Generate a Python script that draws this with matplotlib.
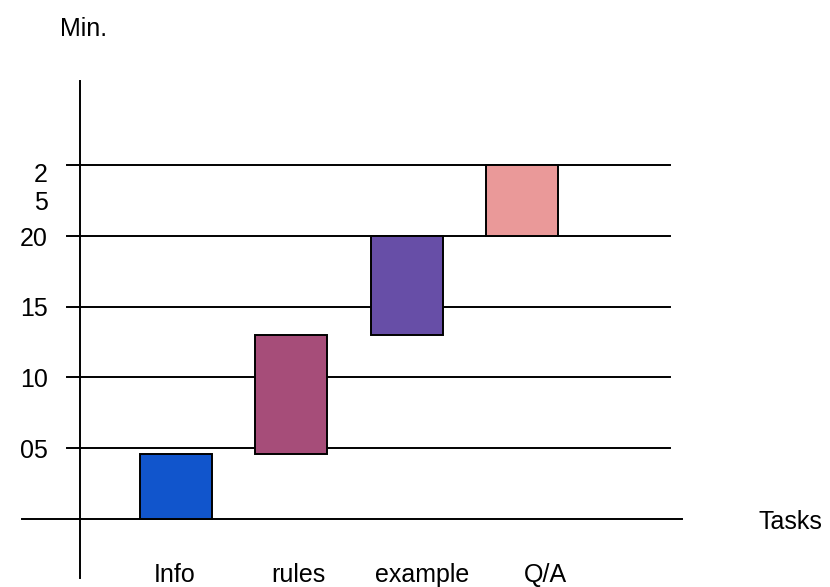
import numpy as np
import matplotlib
matplotlib.use("Agg")
from matplotlib import pyplot as plt

plt.rcParams['font.family'] = ['Liberation Sans', 'DejaVu Sans']

# Tareas y minutos (inicio / fin de cada tarea)
tasks = ['Info', 'rules', 'example', 'Q/A']
start = [0, 4.6, 13.0, 20.0]
end = [4.6, 13.0, 20.0, 25.0]
colors = ['#1155CC', '#A64D79', '#674EA7', '#EA9999']

ticks = [5, 10, 15, 20, 25]
tick_labels = ['05', '10', '15', '20', '2\n5']

fs = 18

fig = plt.figure(figsize=(8.3, 5.87), dpi=100)
ax = fig.add_axes([0, 0, 1, 1])
ax.set_xlim(-1.5295, 5.675)
ax.set_ylim(-4.80, 36.65)
ax.axis('off')

x = np.arange(len(tasks))
dur = np.array(end) - np.array(start)

# lineas horizontales
for t in ticks:
    ax.plot([-0.948, 4.286], [t, t], color='black', lw=1.4, zorder=1)
ax.plot([-1.339, 4.39], [0, 0], color='black', lw=1.4, zorder=1)
# eje vertical
ax.plot([-0.835, -0.835], [-4.17, 30.9], color='black', lw=1.4, zorder=1)

ax.bar(x, dur, bottom=start, width=0.625, color=colors,
       edgecolor='black', linewidth=1.4, zorder=2)

for t, lab in zip(ticks, tick_labels):
    if '\n' in lab:
        ax.text(-1.113, t + 0.15, lab, ha='right', va='top', fontsize=fs,
                linespacing=1.2)
    else:
        ax.text(-1.113, t - 0.2, lab, ha='right', va='center', fontsize=fs)

# etiquetas de las tareas
lab_x = -0.013 + x * 1.0738
for xi, lab in zip(lab_x, tasks):
    ax.text(xi, -4.45, lab, ha='center', va='baseline', fontsize=fs)

ax.text(-0.80, 34.6, 'Min.', ha='center', va='center', fontsize=fs)
ax.text(5.328, -0.2, 'Tasks', ha='center', va='center', fontsize=fs)

plt.savefig('out.png', dpi=100)
